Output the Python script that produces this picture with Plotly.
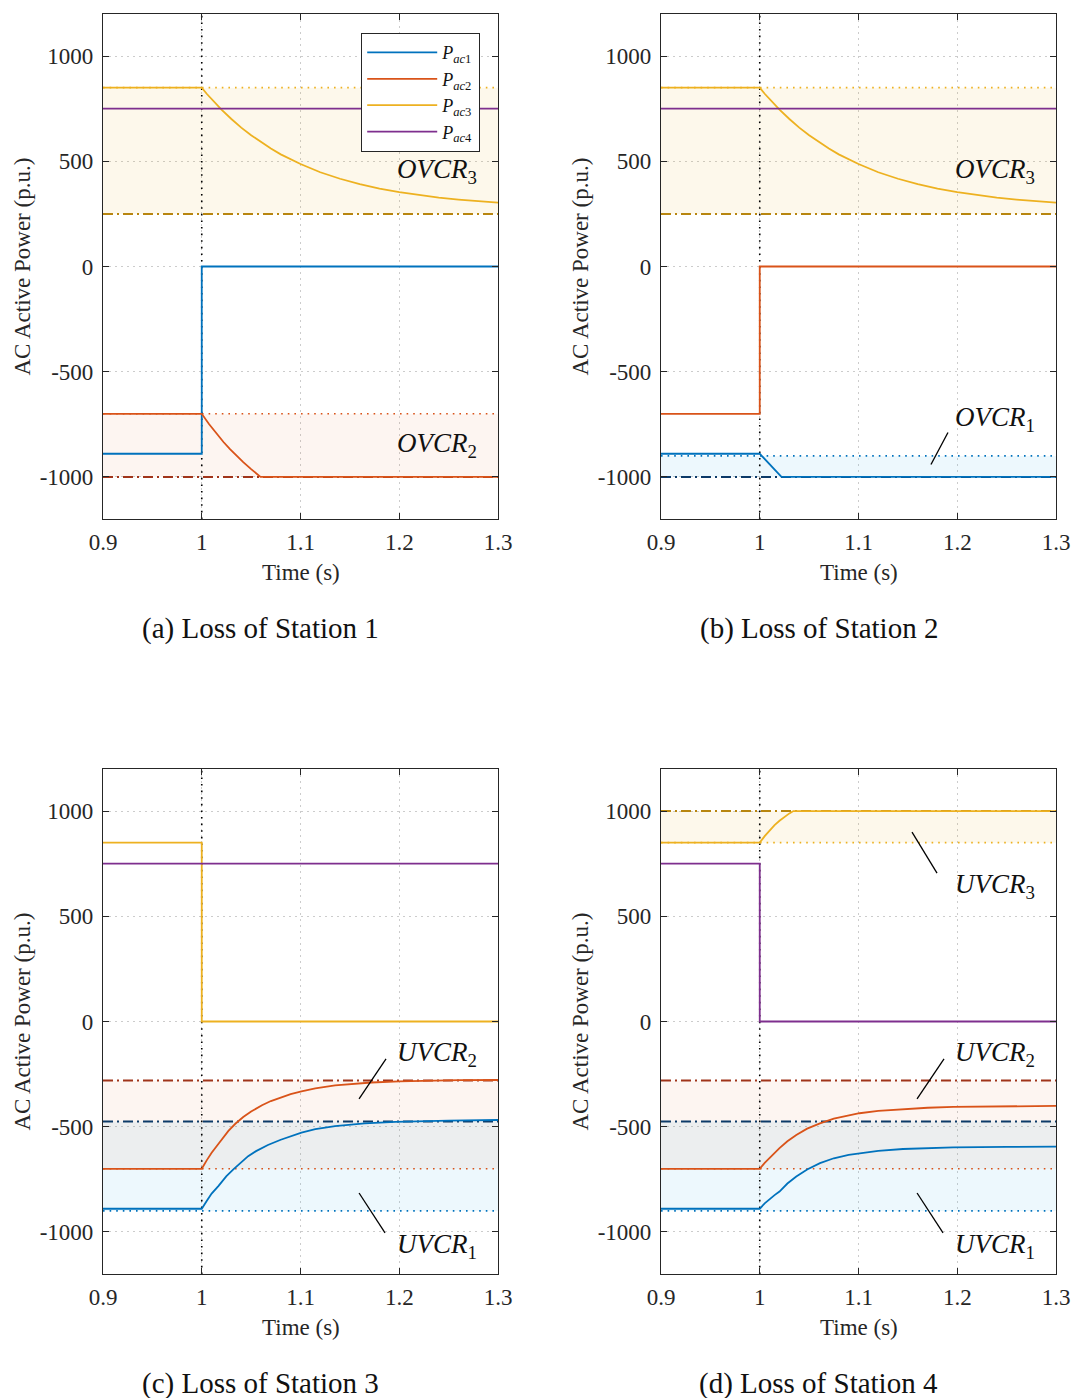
import plotly.graph_objects as go

# ---------------- data ----------------
x_ticks = [0.9, 1.0, 1.1, 1.2, 1.3]
x_tick_labels = ["0.9", "1", "1.1", "1.2", "1.3"]
y_ticks = [-1000, -500, 0, 500, 1000]
y_tick_labels = ["-1000", "-500", "0", "500", "1000"]
t_span = [0.9, 1.3]
y_span = [-1200, 1200]
t_fault = 1.0

# (a) Loss of Station 1
a_t1 = [0.9, 1.0, 1.0, 1.3]
a_p1 = [-890, -890, 0, 0]
a_t2 = [0.9, 1.0, 1.0075, 1.015, 1.022, 1.0286, 1.035, 1.042, 1.05, 1.0595, 1.3]
a_p2 = [-700, -700, -750, -795, -834, -868, -899, -930, -963, -1000, -1000]
a_t3 = [0.9, 1.0, 1.005, 1.01, 1.015, 1.02, 1.03, 1.04, 1.05, 1.06, 1.07, 1.08, 1.09, 1.10,
        1.12, 1.14, 1.16, 1.18, 1.20, 1.22, 1.24, 1.26, 1.28, 1.30]
a_p3 = [850, 850, 821, 795, 770, 746, 701, 660, 624, 591, 561, 533, 509, 487,
        448, 417, 391, 370, 353, 339, 327, 318, 310, 304]
a_t4 = [0.9, 1.3]
a_p4 = [750, 750]

# (b) Loss of Station 2
b_t1 = [0.9, 1.0, 1.022, 1.3]
b_p1 = [-890, -890, -1000, -1000]
b_t2 = [0.9, 1.0, 1.0, 1.3]
b_p2 = [-700, -700, 0, 0]
b_t3 = a_t3
b_p3 = a_p3
b_t4 = [0.9, 1.3]
b_p4 = [750, 750]

# (c) Loss of Station 3
c_t1 = [0.9, 1.0, 1.005, 1.01, 1.0168, 1.025, 1.032, 1.04, 1.047, 1.055, 1.067, 1.08,
        1.09, 1.101, 1.115, 1.135, 1.165, 1.196, 1.25, 1.3]
c_p1 = [-890, -890, -853, -818, -782, -735, -703, -668, -640, -616, -587, -562,
        -545, -528, -512, -497, -484, -477, -471, -468]
c_t2 = [0.9, 1.0, 1.005, 1.01, 1.0168, 1.022, 1.027, 1.034, 1.042, 1.05, 1.061, 1.07,
        1.08, 1.09, 1.101, 1.115, 1.135, 1.15, 1.172, 1.2, 1.229, 1.26, 1.3]
c_p2 = [-700, -700, -660, -624, -582, -550, -520, -486, -454, -428, -398, -378,
        -360, -345, -332, -318, -304, -297, -290, -285, -281, -279, -278]
c_t3 = [0.9, 1.0, 1.0, 1.3]
c_p3 = [850, 850, 0, 0]
c_t4 = [0.9, 1.3]
c_p4 = [750, 750]

# (d) Loss of Station 4
d_t1 = [0.9, 1.0, 1.005, 1.01, 1.015, 1.02, 1.028, 1.037, 1.048, 1.061, 1.075, 1.09,
        1.101, 1.12, 1.145, 1.17, 1.196, 1.25, 1.3]
d_p1 = [-890, -890, -864, -843, -825, -808, -770, -737, -703, -673, -650, -634,
        -626, -615, -606, -601, -598, -596, -595]
d_t2 = d_t1
d_p2 = [-700, -700, -672, -647, -624, -602, -569, -539, -509, -484, -462, -446,
        -436, -425, -416, -410, -406, -403, -401]
d_t3 = [0.9, 1.0, 1.005, 1.01, 1.015, 1.02, 1.025, 1.03, 1.034, 1.3]
d_p3 = [850, 850, 881, 909, 933, 954, 973, 989, 1000, 1000]
d_t4 = [0.9, 1.0, 1.0, 1.3]
d_p4 = [750, 750, 0, 0]

# control-range bands: [starting value, limit]
ovcr1 = [-900, -1000]
ovcr2 = [-700, -1000]
ovcr3 = [850, 250]
uvcr1 = [-900, -475]
uvcr2 = [-700, -280]
uvcr3 = [850, 1000]

series_names = ["<i>P</i><sub><i>ac</i>1</sub>", "<i>P</i><sub><i>ac</i>2</sub>",
                "<i>P</i><sub><i>ac</i>3</sub>", "<i>P</i><sub><i>ac</i>4</sub>"]
captions = ["(a) Loss of Station 1", "(b) Loss of Station 2",
            "(c) Loss of Station 3", "(d) Loss of Station 4"]

# ---------------- styles ----------------
FONT = "Liberation Serif"
C = ["#0072BD", "#D95319", "#EDB120", "#7E2F8E"]
FILL = {"b": "rgba(77,190,238,0.10)", "r": "rgba(217,83,25,0.06)", "y": "rgba(237,177,32,0.09)"}
LINE = {"b": C[0], "r": C[1], "y": C[2]}
DARK = {"b": "#0C3A68", "r": "#A0341A", "y": "#B8860F"}
DOT = "1.6px,5px"
DASHDOT = "10px,4px,2px,4px"

W, H = 1074, 1398
cols = [(103, 498), (661, 1056)]
rows = [(14, 519), (769, 1274)]

fig = go.Figure()
layout = dict(width=W, height=H, autosize=False, margin=dict(l=0, r=0, t=0, b=0, pad=0),
              paper_bgcolor="white", plot_bgcolor="white",
              font=dict(family=FONT, size=23, color="#262626"),
              shapes=[], annotations=[])

panels = [
    ([(a_t1, a_p1), (a_t2, a_p2), (a_t3, a_p3), (a_t4, a_p4)], [(ovcr3, "y"), (ovcr2, "r")]),
    ([(b_t1, b_p1), (b_t2, b_p2), (b_t3, b_p3), (b_t4, b_p4)], [(ovcr3, "y"), (ovcr1, "b")]),
    ([(c_t1, c_p1), (c_t2, c_p2), (c_t3, c_p3), (c_t4, c_p4)], [(uvcr1, "b"), (uvcr2, "r")]),
    ([(d_t1, d_p1), (d_t2, d_p2), (d_t3, d_p3), (d_t4, d_p4)], [(uvcr3, "y"), (uvcr1, "b"), (uvcr2, "r")]),
]

for i, (series, bands) in enumerate(panels):
    k = i + 1
    xs = "x" if k == 1 else f"x{k}"
    ys = "y" if k == 1 else f"y{k}"
    cx = cols[i % 2]
    ry = rows[i // 2]
    axkw = dict(ticks="inside", ticklen=6, tickwidth=1, tickcolor="#262626",
                showline=True, linecolor="#262626", linewidth=1.2, mirror="ticks",
                showgrid=True, gridcolor="#cccccc", griddash="1.5px,4.5px", gridwidth=1,
                zeroline=False, automargin=False,
                tickfont=dict(family=FONT, size=23, color="#262626"))
    layout["xaxis" if k == 1 else f"xaxis{k}"] = dict(
        domain=[cx[0] / W, cx[1] / W], anchor=ys, range=t_span,
        tickvals=x_ticks, ticktext=x_tick_labels, ticklabelstandoff=2, **axkw)
    layout["yaxis" if k == 1 else f"yaxis{k}"] = dict(
        domain=[1 - ry[1] / H, 1 - ry[0] / H], anchor=xs, range=y_span,
        tickvals=y_ticks, ticktext=y_tick_labels, ticklabelstandoff=4, **axkw)

    # bands
    for lims, col in bands:
        fig.add_trace(go.Scatter(x=[t_span[0], t_span[1], t_span[1], t_span[0]],
                                 y=[lims[0], lims[0], lims[1], lims[1]],
                                 fill="toself", fillcolor=FILL[col], mode="none",
                                 xaxis=xs, yaxis=ys, showlegend=False, hoverinfo="skip"))
    for lims, col in bands:
        fig.add_trace(go.Scatter(x=t_span, y=[lims[0], lims[0]], mode="lines",
                                 line=dict(color=LINE[col], width=1.6, dash=DOT),
                                 xaxis=xs, yaxis=ys, showlegend=False, hoverinfo="skip"))
        fig.add_trace(go.Scatter(x=t_span, y=[lims[1], lims[1]], mode="lines",
                                 line=dict(color=DARK[col], width=2, dash=DASHDOT),
                                 xaxis=xs, yaxis=ys, showlegend=False, hoverinfo="skip"))
    # fault instant
    fig.add_trace(go.Scatter(x=[t_fault, t_fault], y=y_span, mode="lines",
                             line=dict(color="black", width=1.6, dash="1.6px,5px"),
                             xaxis=xs, yaxis=ys, showlegend=False, hoverinfo="skip"))
    # series
    for j, (tt, pp) in enumerate(series):
        fig.add_trace(go.Scatter(x=tt, y=pp, mode="lines", name=series_names[j],
                                 line=dict(color=C[j], width=1.8),
                                 xaxis=xs, yaxis=ys, showlegend=(k == 1)))

    # axis titles and caption
    midx = (cx[0] + cx[1]) / 2
    midy = (ry[0] + ry[1]) / 2
    layout["annotations"].append(dict(text="Time (s)", xref="paper", yref="paper",
                                      x=midx / W, y=1 - (ry[1] + 53) / H, showarrow=False,
                                      xanchor="center", yanchor="middle", font=dict(size=23)))
    layout["annotations"].append(dict(text="AC Active Power (p.u.)", xref="paper", yref="paper",
                                      x=(cx[0] - 81) / W, y=1 - midy / H, showarrow=False,
                                      textangle=-90, xanchor="center", yanchor="middle",
                                      font=dict(size=23)))
    layout["annotations"].append(dict(text=captions[i], xref="paper", yref="paper",
                                      x=(cx[0] + 157.5) / W, y=1 - (ry[1] + 109) / H,
                                      showarrow=False, xanchor="center", yanchor="middle",
                                      font=dict(size=29, color="#111111")))

# region labels
def label(k, text, sub, t, v):
    xs = "x" if k == 1 else f"x{k}"
    ys = "y" if k == 1 else f"y{k}"
    layout["annotations"].append(dict(text=f"<i>{text}</i><sub>{sub}</sub>", xref=xs, yref=ys,
                                      x=t, y=v, showarrow=False, xanchor="left", yanchor="middle",
                                      font=dict(size=27, color="#111111")))

def pointer(k, t0, v0, t1, v1):
    xs = "x" if k == 1 else f"x{k}"
    ys = "y" if k == 1 else f"y{k}"
    layout["shapes"].append(dict(type="line", xref=xs, yref=ys, x0=t0, y0=v0, x1=t1, y1=v1,
                                 line=dict(color="black", width=1.3)))

label(1, "OVCR", 3, 1.196, 456)
label(1, "OVCR", 2, 1.196, -846)
label(2, "OVCR", 3, 1.196, 456)
label(2, "OVCR", 1, 1.196, -727)
pointer(2, 1.1906, -789, 1.1734, -941)
for k in (3, 4):
    label(k, "UVCR", 2, 1.196, -154)
    pointer(k, 1.1866, -178, 1.1593, -368)
    label(k, "UVCR", 1, 1.196, -1066)
    pointer(k, 1.1593, -815, 1.1856, -1005)
label(4, "UVCR", 3, 1.196, 644)
pointer(4, 1.1542, 900, 1.1795, 705)

layout["legend"] = dict(x=480 / W, y=1 - 33 / H, xanchor="right", yanchor="top",
                        bgcolor="white", bordercolor="#262626", borderwidth=1.2,
                        font=dict(family=FONT, size=18, color="#111111"),
                        itemwidth=70, tracegroupgap=0)

fig.update_layout(**layout)
fig.write_html("out.html", config={"responsive": False, "displayModeBar": False},
               post_script="document.body.style.margin='0px';document.body.style.overflow='hidden';")
